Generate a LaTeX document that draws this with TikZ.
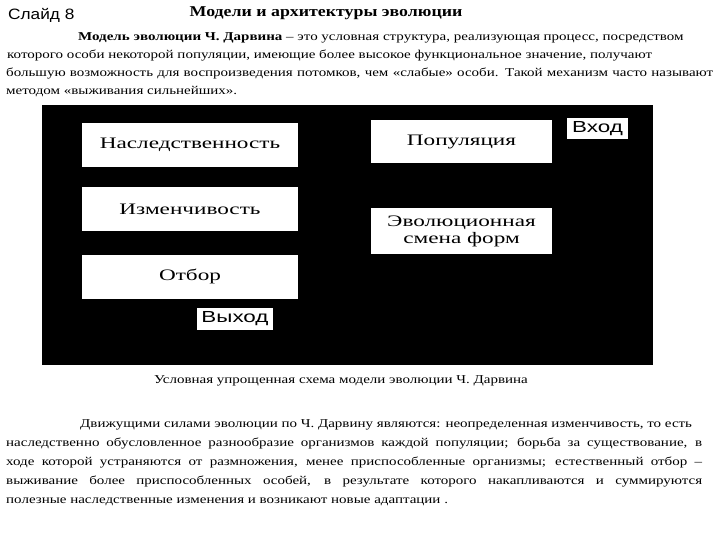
\documentclass[tikz,border=0pt]{standalone}
\usepackage{fontspec}
\setmainfont{Liberation Serif}
\newfontfamily\bodyfont[FakeStretch=1.25]{Liberation Serif}
\newfontfamily\titlefont[FakeStretch=1.19]{Liberation Serif}
\newfontfamily\boxfont[FakeStretch=1.45]{Liberation Serif}
\newfontfamily\slidefont[FakeStretch=1.15]{Liberation Sans}
\newfontfamily\iofont[FakeStretch=1.4]{Liberation Sans}
\usetikzlibrary{positioning}

\begin{document}
\begin{tikzpicture}[x=1pt, y=-1pt,
    txt/.style={anchor=base west, inner sep=0pt, font=\bodyfont\fontsize{12}{14}\selectfont},
    block/.style={fill=white, inner sep=0pt, minimum width=216pt, minimum height=44pt,
        align=center, font=\boxfont\fontsize{16}{17}\selectfont},
    io/.style={fill=white, inner sep=0pt, font=\iofont\fontsize{16}{17}\selectfont},
    node distance=20pt]
	\useasboundingbox (0,0) rectangle (720,540);

	% Header
	\node [anchor=base west, inner sep=0pt, font=\slidefont\fontsize{15}{16}\selectfont] (slide) at (8,20) {Слайд 8};
	\node [anchor=base, inner sep=0pt, font=\titlefont\fontsize{15}{16}\selectfont\bfseries] (title) at (326,17) {Модели и архитектуры эволюции};

	% First paragraph
	\node [txt] (p1a) at (78,41) {\textbf{Модель эволюции Ч. Дарвина} – это условная структура, реализующая процесс, посредством};
	\node [txt] (p1b) at (7,59) {которого особи некоторой популяции, имеющие более высокое функциональное значение, получают};
	\node [txt] (p1c) at (6,77) {\makebox[707pt][s]{большую возможность для воспроизведения потомков, чем «слабые» особи. Такой механизм часто называют}};
	\node [txt] (p1d) at (6,95) {методом «выживания сильнейших».};

	% Scheme
	\fill (42,105) rectangle (653,365);
	\node [block] (her) at (190,145) {Наследственность};
	\node [block] (var) [below=of her] {Изменчивость};
	\node [block] (sel) [below=23pt of var] {Отбор};
	\node [io, minimum width=76pt, minimum height=22pt] (out) at (235,319) {Выход};
	\node [block, minimum width=181pt, minimum height=43pt] (pop) at (461.5,141.5) {Популяция};
	\node [block, minimum width=181pt, minimum height=46pt] (mix) [below=45pt of pop] {Эволюционная\\смена форм};
	\node [io, minimum width=61pt, minimum height=21pt] (in) at (597.5,128.5) {Вход};

	% Caption
	\node [txt, anchor=base] (cap) at (341,383) {Условная упрощенная схема модели эволюции Ч. Дарвина};

	% Second paragraph
	\node [txt] (p2a) at (80,427) {Движущими силами эволюции по Ч. Дарвину являются: неопределенная изменчивость, то есть};
	\node [txt] (p2b) at (6,446) {\makebox[696pt][s]{наследственно обусловленное разнообразие организмов каждой популяции; борьба за существование, в}};
	\node [txt] (p2c) at (6,465) {\makebox[696pt][s]{ходе которой устраняются от размножения, менее приспособленные организмы; естественный отбор –}};
	\node [txt] (p2d) at (6,484) {\makebox[696pt][s]{выживание более приспособленных особей, в результате которого накапливаются и суммируются}};
	\node [txt] (p2e) at (6,503) {полезные наследственные изменения и возникают новые адаптации .};
\end{tikzpicture}
\end{document}
